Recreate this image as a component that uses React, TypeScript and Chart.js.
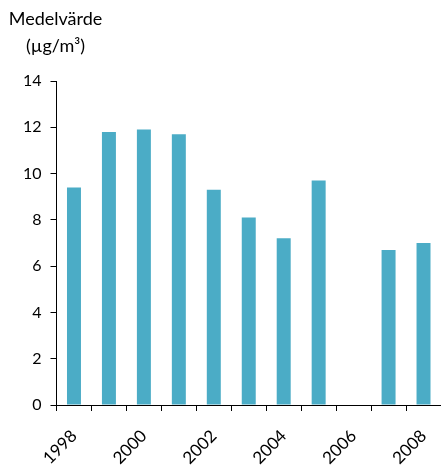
import { useEffect, useRef } from 'react';
import { Chart, registerables } from 'chart.js';

Chart.register(...registerables);

const years = ['1998', '1999', '2000', '2001', '2002', '2003', '2004', '2005', '2006', '2007', '2008'];
const values: (number | null)[] = [9.4, 11.8, 11.9, 11.7, 9.3, 8.1, 7.2, 9.7, null, 6.7, 7.0];
const yMin = 0;
const yMax = 14;
const yStep = 2;
const titleLines = ['Medelvärde', '(µg/m³)'];

const FONT = 'Lato, "Open Sans", sans-serif';

const titlePlugin = {
  id: 'yTitle',
  afterDraw(chart: any) {
    const ctx = chart.ctx;
    const x = chart.chartArea.left - 1;
    ctx.save();
    ctx.fillStyle = '#000';
    ctx.font = `18px ${FONT}`;
    ctx.textAlign = 'center';
    ctx.textBaseline = 'middle';
    ctx.fillText(titleLines[0], x, 19);
    ctx.fillText(titleLines[1], x, 46);
    ctx.restore();
  },
};

export default function App() {
  const ref = useRef<HTMLCanvasElement>(null);
  useEffect(() => {
    if (!ref.current) return;
    const chart = new Chart(ref.current, {
      type: 'bar',
      data: {
        labels: years,
        datasets: [
          {
            data: values,
            backgroundColor: '#4BACC6',
            borderWidth: 0,
            barPercentage: 0.4,
            categoryPercentage: 1,
          },
        ],
      },
      options: {
        responsive: false,
        animation: false,
        layout: { padding: { top: 81, right: 0, left: 0, bottom: 0 } },
        plugins: {
          legend: { display: false },
          tooltip: { enabled: false },
          title: { display: false },
        },
        scales: {
          y: {
            min: yMin,
            max: yMax,
            ticks: {
              stepSize: yStep,
              color: '#000',
              font: { family: FONT, size: 16 },
              padding: 9,
            },
            grid: {
              display: true,
              drawOnChartArea: false,
              drawTicks: true,
              tickLength: 6,
              color: '#000',
            },
            border: { color: '#000', width: 1 },
            afterFit: (s: any) => {
              s.width = 56.5;
            },
          },
          x: {
            ticks: {
              autoSkip: false,
              maxRotation: 45,
              minRotation: 45,
              color: '#000',
              font: { family: FONT, size: 17 },
              padding: 15,
              callback: (_v: any, i: number) => (i % 2 === 0 ? years[i] : ''),
            },
            grid: {
              display: true,
              offset: true,
              drawOnChartArea: false,
              drawTicks: true,
              tickLength: 6,
              color: '#000',
            },
            border: { color: '#000', width: 1 },
            afterFit: (s: any) => {
              s.height = 62;
              s.paddingRight = 0;
              s.paddingLeft = 0;
            },
          },
        },
      },
      plugins: [titlePlugin],
    });
    return () => chart.destroy();
  }, []);
  return (
    <canvas
      ref={ref}
      width={441}
      height={467}
      style={{ position: 'absolute', left: 0, top: 0, display: 'block' }}
    />
  );
}
